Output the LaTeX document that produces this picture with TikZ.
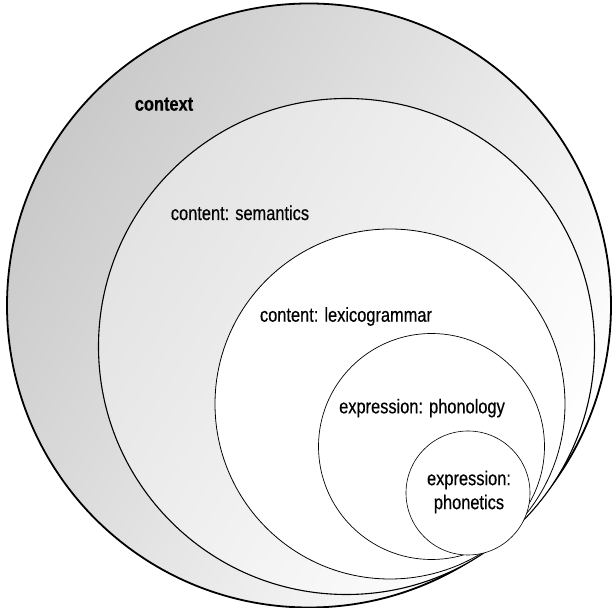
\documentclass[tikz,border=0pt]{standalone}
\usepackage{fontspec}
\setmainfont{Liberation Sans}[FakeStretch=0.82,FakeBold=0.4]
\tikzset{Sring/.style={circle,draw,inner sep=0pt,outer sep=0pt},
         Slab/.style={font=\fontsize{20}{24}\selectfont,inner sep=0pt,align=center}}

\begin{document}
\begin{tikzpicture}[x=1pt,y=1pt]
  \useasboundingbox (0,0) rectangle (614,608);
  % outer strata, shaded from the upper left
  \node[Sring,minimum size=604pt,line width=1.8pt,top color=gray!42,middle color=gray!9,bottom color=white,shading angle=58] (ctx) at (309,302.5) {};
  \node[Sring,minimum size=496pt,line width=1.1pt,top color=gray!22,middle color=white,bottom color=white,shading angle=58] (sem) at (346.5,261.5) {};
  % inner strata
  \foreach \n/\x/\y/\d/\w in {lex/390/204/350/0.8pt,pho/431.5/161.5/226/0.7pt,phn/468/115/124/0.6pt}
     {\node[Sring,fill=white,minimum size=\d pt,line width=\w] (\n) at (\x,\y) {};}
  % labels
  \node[Slab,anchor=base] (ctxlab) at (164,497.3) {\bfseries context};
  \node[Slab,anchor=base] (semlab) at (240,388) {content: semantics};
  \node[Slab,anchor=base] (lexlab) at (346,286.3) {content: lexicogrammar};
  \node[Slab,anchor=base] (pholab) at (422,194.7) {expression: phonology};
  \node[Slab] (phnlab) at (469,116) {expression:\\phonetics};
\end{tikzpicture}
\end{document}
